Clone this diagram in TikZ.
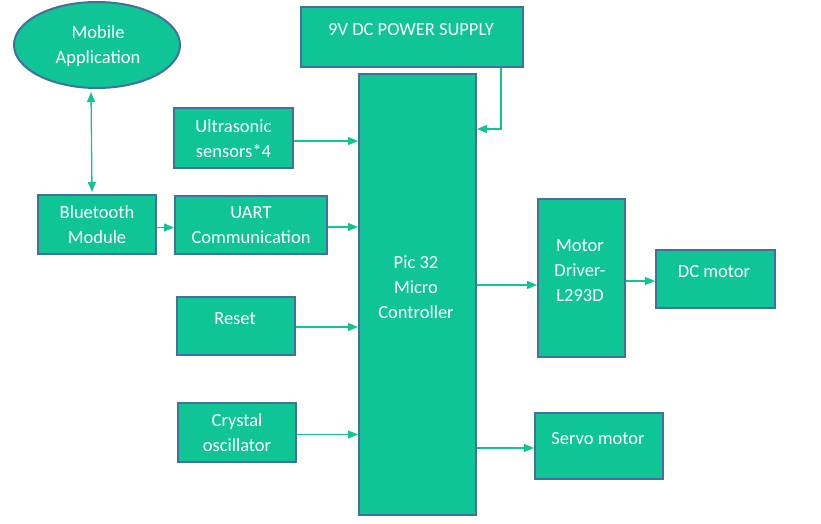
\documentclass[tikz,border=0pt]{standalone}
\usepackage{fontspec}
\setmainfont{Carlito}
\usetikzlibrary{arrows.meta,shapes.geometric}
\definecolor{boxfill}{RGB}{15,197,150}
\definecolor{boxline}{RGB}{65,113,156}
\definecolor{conn}{RGB}{15,197,150}
\tikzset{
  box/.style={draw=boxline, line width=2pt, fill=boxfill, rectangle, anchor=north west, inner sep=0pt},
  txt/.style={text=white, font=\fontsize{18.5}{25}\selectfont, align=center, inner sep=0pt},
  arr/.style={draw=conn, line width=1.3pt, -{Triangle[length=10pt,width=8pt]}},
  arrtwo/.style={draw=conn, line width=1.3pt, {Triangle[length=10pt,width=8pt]}-{Triangle[length=10pt,width=8pt]}}
}
\begin{document}
\begin{tikzpicture}[x=1pt,y=-1pt]
\useasboundingbox (0,0) rectangle (821,524);
% nodes
\node[draw=boxline, line width=2pt, fill=boxfill, ellipse, minimum width=166pt, minimum height=86pt, inner sep=0pt] (app) at (97,45) {};
\node[txt] (appT) at (98,46) {Mobile\\Application};

\node[box, minimum width=118pt, minimum height=59pt] (bt) at (37,194) {};
\node[txt] (btT) at (bt.center) {Bluetooth\\Module};

\node[box, minimum width=119pt, minimum height=60pt] (us) at (173,107) {};
\node[txt] (usT) at ([yshift=-1pt]us.center) {Ultrasonic\\sensors*4};

\node[box, minimum width=152pt, minimum height=58pt] (uart) at (174,195) {};
\node[txt] (uartT) at (uart.center) {UART\\Communication};

\node[box, minimum width=118pt, minimum height=58pt] (rst) at (176,296) {};
\node[txt] (rstT) at (235,319) {Reset};

\node[box, minimum width=118pt, minimum height=59pt] (xt) at (177,402) {};
\node[txt] (xtT) at (xt.center) {Crystal\\oscillator};

\node[box, minimum width=222pt, minimum height=60pt] (ps) at (300,6) {};
\node[txt] (psT) at (411,30) {9V DC POWER SUPPLY};

\node[box, minimum width=117pt, minimum height=441pt] (pic) at (358,73) {};
\node[txt] (picT) at (416,287) {Pic 32\\Micro\\Controller};

\node[box, minimum width=87pt, minimum height=158pt] (md) at (537,198) {};
\node[txt] (mdT) at (580,271) {Motor\\Driver-\\L293D};

\node[box, minimum width=119pt, minimum height=58pt] (dc) at (655,249) {};
\node[txt] (dcT) at (714,272) {DC motor};

\node[box, minimum width=128pt, minimum height=66pt] (sv) at (534,412) {};
\node[txt] (svT) at (598,439) {Servo motor};

% connectors
\draw[arrtwo] ([xshift=-6pt,yshift=-3pt]app.south) -- ([xshift=-5pt,yshift=2pt]bt.north);
\draw[arr] ([yshift=-3pt]us.east) -- ([yshift=-3pt]us.east -| pic.west);
\draw[arr] ([yshift=-3pt]bt.east) -- ([yshift=-3pt]bt.east -| uart.west);
\draw[arr] ([yshift=-2pt]uart.east) -- ([yshift=-2pt]uart.east -| pic.west);
\draw[arr] ([yshift=-1pt]rst.east) -- ([yshift=-1pt]rst.east -| pic.west);
\draw[arr] ([yshift=-2pt]xt.east) -- ([yshift=-2pt]xt.east -| pic.west);
\coordinate (pc) at (501,129);
\draw[arr] (ps.south -| pc) -- (pc) -- (pc -| pic.east);
\draw[arr] ([yshift=-7pt]md.west -| pic.east) -- ([yshift=-7pt]md.west);
\draw[arr] ([yshift=-3pt]md.east) -- ([yshift=-3pt]md.east -| dc.west);
\draw[arr] ([yshift=-2pt]sv.west -| pic.east) -- ([yshift=-2pt]sv.west);
\end{tikzpicture}
\end{document}
